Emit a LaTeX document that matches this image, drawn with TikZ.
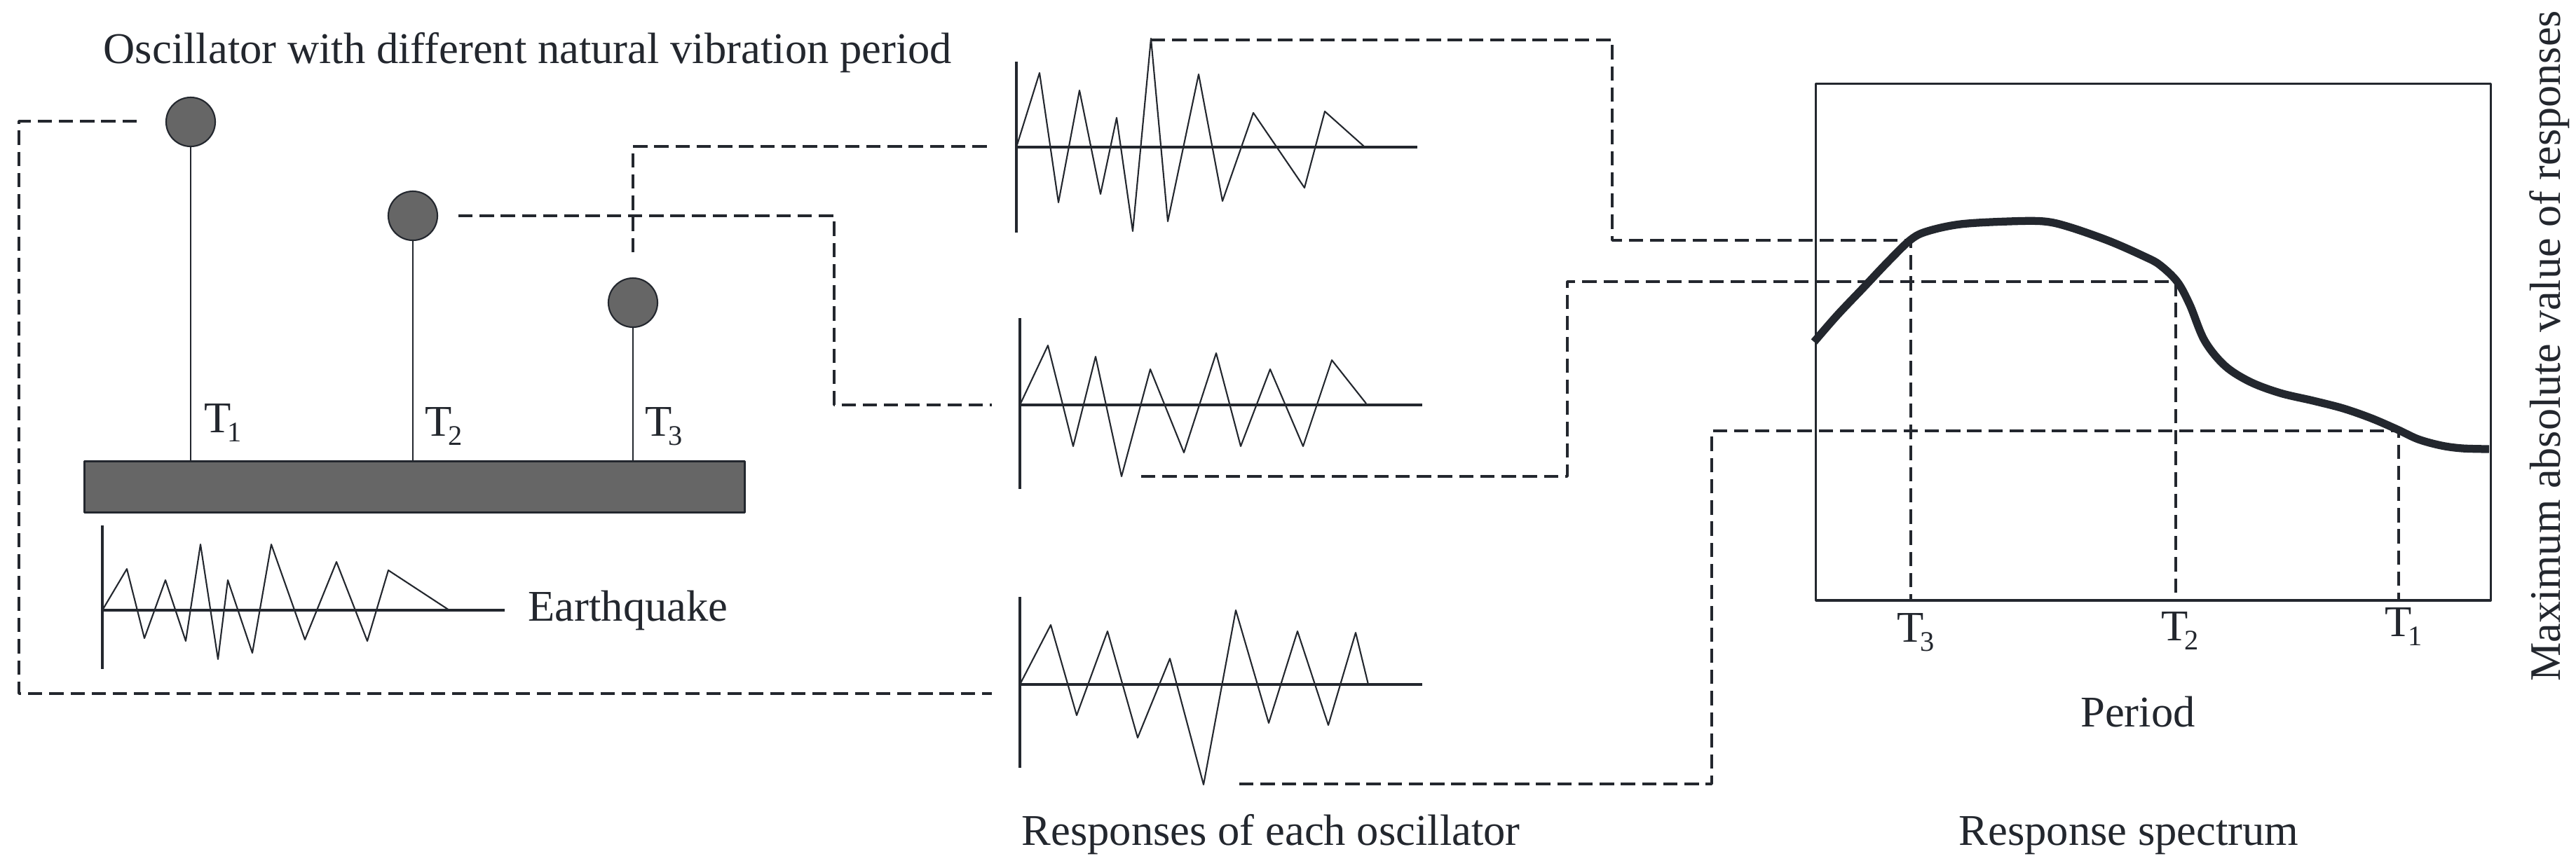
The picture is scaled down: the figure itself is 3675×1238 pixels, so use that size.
\documentclass[tikz,border=0pt]{standalone}
\usepackage{fontspec}
\newfontfamily\tnr{Liberation Serif}
\definecolor{ink}{HTML}{23272E}
\definecolor{massgray}{HTML}{666666}
\newcommand\Tsub[1]{T\kern-1.5pt\raisebox{-3.8pt}{\fontsize{11.5}{12}\selectfont #1}}
\begin{document}
\begin{tikzpicture}[x=0.01cm,y=-0.01cm,line join=round,
  conn/.style={draw=ink, line width=1pt, dash pattern=on 5.8pt off 2.8pt},
  axisline/.style={draw=ink, line width=1pt},
  wave/.style={draw=ink, line width=0.6pt},
  lbl/.style={inner sep=0pt, font=\tnr\fontsize{17.8}{20}\selectfont, text=ink},
  massball/.style={circle, draw=ink, line width=0.6pt, fill=massgray, minimum size=0.7cm, inner sep=0pt},
  stick/.style={draw=ink, line width=0.6pt}]
\fill[white] (0,0) rectangle (3675,1238);
\useasboundingbox (0,0) rectangle (3675,1238);

% ---------- oscillators ----------
\node[lbl, anchor=base west] (title) at (147,90) {Oscillator with different natural vibration period};
\node[massball] (m1) at (272,174) {};
\node[massball] (m2) at (589,308) {};
\node[massball] (m3) at (903,432) {};
\node[draw=ink, line width=0.9pt, fill=massgray, minimum width=9.41cm, minimum height=0.73cm,
      inner sep=0pt, anchor=north west] (base) at (119,657) {};
\draw[stick] (m1.south) -- (m1.south |- base.north);
\draw[stick] (m2.south) -- (m2.south |- base.north);
\draw[stick] (m3.south) -- (m3.south |- base.north);
\node[lbl, anchor=base west] (ta) at (291,617) {\Tsub{1}};
\node[lbl, anchor=base west] (tb) at (606,622) {\Tsub{2}};
\node[lbl, anchor=base west] (tc) at (920,622) {\Tsub{3}};

% ---------- earthquake ----------
\coordinate (eq) at (146,871);
\draw[axisline] (146,750) -- (146,955);
\draw[axisline] (eq) -- (720,871);
\draw[wave] (eq) -- (181,812) -- (206,911) -- (236,828) -- (265,915) -- (286,777) -- (311,941)
  -- (325,828) -- (360,932) -- (387,777) -- (435,913) -- (480,802) -- (524,915) -- (554,814) -- (641,871);
\node[lbl, anchor=base west] (eqlbl) at (753,886) {Earthquake};

% ---------- responses ----------
\coordinate (r1) at (1450,210);
\draw[axisline] (1450,88) -- (1450,332);
\draw[axisline] (r1) -- (2022,210);
\draw[wave] (r1) -- (1483,104) -- (1510,289) -- (1540,129) -- (1570,277) -- (1593,168) -- (1616,330)
  -- (1642,55) -- (1666,316) -- (1710,106) -- (1744,287) -- (1788,161) -- (1861,268) -- (1890,159) -- (1946,209);

\coordinate (r2) at (1455,578);
\draw[axisline] (1455,454) -- (1455,698);
\draw[axisline] (r2) -- (2029,578);
\draw[wave] (r2) -- (1495,493) -- (1531,637) -- (1563,509) -- (1600,680) -- (1641,527) -- (1689,646)
  -- (1735,504) -- (1770,637) -- (1812,527) -- (1859,637) -- (1900,514) -- (1949,576);

\coordinate (r3) at (1455,977);
\draw[axisline] (1455,852) -- (1455,1096);
\draw[axisline] (r3) -- (2029,977);
\draw[wave] (r3) -- (1499,892) -- (1536,1021) -- (1580,901) -- (1623,1053) -- (1669,940) -- (1717,1120)
  -- (1763,871) -- (1810,1032) -- (1851,901) -- (1895,1035) -- (1934,903) -- (1952,977);
\node[lbl, anchor=base west] (resplbl) at (1457,1206) {Responses of each oscillator};

% ---------- spectrum ----------
\node[draw=ink, line width=0.9pt, minimum width=9.62cm, minimum height=7.37cm, inner sep=0pt,
      anchor=north west] (box) at (2589,118) {};
\draw[ink, line width=3.2pt] plot[smooth, tension=0.55] coordinates {
  (2588,488) (2621,450) (2659,410) (2694,373) (2726,342) (2750,330) (2797,320) (2866,316)
  (2916,316) (2952,324) (3009,344) (3059,366) (3081,378) (3106,402) (3124,435) (3145,486)
  (3174,522) (3210,545) (3253,561) (3300,572) (3343,583) (3383,597) (3420,613) (3450,627)
  (3483,636) (3513,640) (3551,641)};
\coordinate (p3) at (2726,343);
\coordinate (p2) at (3104,402);
\coordinate (p1) at (3422,615);
\node[lbl, anchor=base west] (sx3) at (2706,916) {\Tsub{3}};
\node[lbl, anchor=base west] (sx2) at (3083,914) {\Tsub{2}};
\node[lbl, anchor=base west] (sx1) at (3402,908) {\Tsub{1}};
\node[lbl, anchor=base] (perlbl) at (3050,1037) {Period};
\node[lbl, anchor=base] (speclbl) at (3037,1206) {Response spectrum};
\node[rotate=90, anchor=base, inner sep=0pt, font=\tnr\fontsize{17.7}{20}\selectfont, text=ink] (ylbl)
  at (3652,494) {Maximum absolute value of responses};

% ---------- connectors ----------
\coordinate (a0) at (195,173);
\coordinate (a1) at (1415,990);
\draw[conn] (a0) -- (27,173) -- (27,990) -- (a1);
\coordinate (b0) at (654,308);
\coordinate (b1) at (1415,578);
\draw[conn] (b0) -- (1190,308) -- (1190,578) -- (b1);
\coordinate (c0) at (903,360);
\coordinate (c1) at (1415,209);
\draw[conn] (c0) -- (903,209) -- (c1);
\coordinate (d0) at (1642,57);
\draw[conn] (d0) -- (2300,57) -- (2300,343) -- (p3) -- (p3 |- box.south);
\coordinate (e0) at (1628,680);
\draw[conn] (e0) -- (2236,680) -- (2236,402) -- (p2) -- (p2 |- box.south);
\coordinate (f0) at (1768,1119);
\draw[conn] (f0) -- (2442,1119) -- (2442,615) -- (p1) -- (p1 |- box.south);
\end{tikzpicture}
\end{document}
